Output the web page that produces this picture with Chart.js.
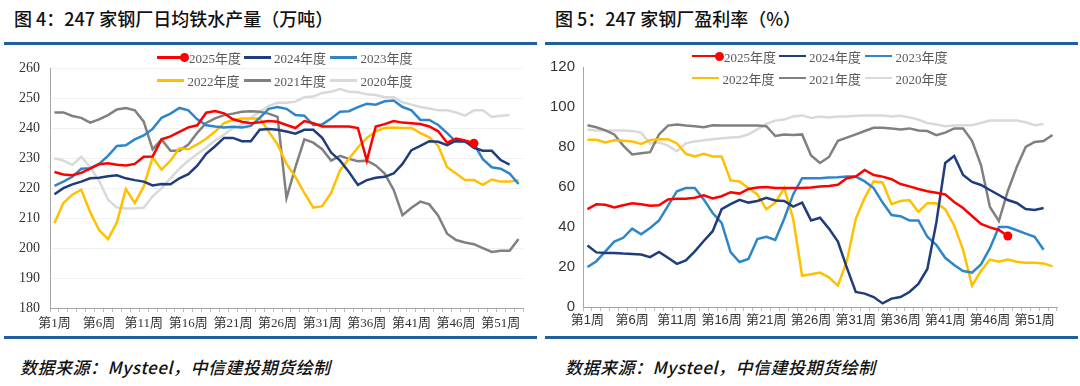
<!DOCTYPE html>
<html>
<head>
<meta charset="utf-8">
<script src="https://cdn.jsdelivr.net/npm/chart.js@4.4.1/dist/chart.umd.min.js"></script>
<style>
  body { margin: 0; background: #fff; }
  #page { position: relative; width: 1080px; height: 386px; overflow: hidden; font-family: "Noto Sans CJK SC", sans-serif; }
  .title { position: absolute; top: 6px; font-size: 18px; font-weight: 500; line-height: 24px; color: #111; white-space: nowrap; }
  .rule { position: absolute; height: 3px; background: #1f5f9f; }
  .box { position: absolute; top: 50px; width: 540px; height: 290px; }
  .legend { position: absolute; display: grid; grid-template-columns: repeat(3, 86.5px); font: 13px "Liberation Serif", "Noto Sans CJK SC", serif; color: #595959; z-index: 2; }
  .item { display: flex; align-items: center; white-space: nowrap; }
  .swatch { position: relative; display: inline-block; width: 27px; height: 2.5px; margin-right: 3.5px; }
  .dot { position: absolute; right: -4.5px; top: -3.25px; width: 9px; height: 9px; border-radius: 50%; }
  .source { position: absolute; top: 355px; font-size: 17px; font-style: italic; font-weight: 500; letter-spacing: 0.5px; line-height: 24px; color: #111; white-space: nowrap; }
</style>
</head>
<body>
<div id="page">
  <div class="title" style="left:14px">图 4：247 家钢厂日均铁水产量（万吨）</div>
  <div class="title" style="left:555px">图 5：247 家钢厂盈利率（%）</div>
  <div class="rule" style="left:4px; width:533px; top:42px"></div>
  <div class="rule" style="left:545px; width:533px; top:42px"></div>

  <div class="box" style="left:0"><canvas id="chartIron"></canvas></div>
  <div class="box" style="left:540px"><canvas id="chartProfit"></canvas></div>

  <div class="legend" id="legendIron" style="left:157px; top:46px; grid-auto-rows:23px"></div>
  <div class="legend" id="legendProfit" style="left:692px; top:45px; grid-auto-rows:22px"></div>

  <div class="rule" style="left:4px; width:533px; top:336px"></div>
  <div class="rule" style="left:545px; width:533px; top:336px"></div>
  <div class="source" style="left:20px">数据来源：Mysteel，中信建投期货绘制</div>
  <div class="source" style="left:565px">数据来源：Mysteel，中信建投期货绘制</div>
</div>

<script>
// label minggu: 第1周 ... 第53周
const weekLabels = []
for (let w = 1; w <= 53; w++) weekLabels.push("第" + w + "周")

const seriesNames = ["2025年度", "2024年度", "2023年度", "2022年度", "2021年度", "2020年度"]
const seriesColors = ["#ff0000", "#1f3d7c", "#2e86c9", "#ffc000", "#808080", "#d9d9d9"]

// 图4 日均铁水产量 (万吨)
const iron2025 = [225.4, 224.6, 224.3, 225.1, 226.5, 228.0, 228.3, 227.8, 227.6, 228.1,
  230.5, 230.6, 236.3, 237.3, 238.8, 240.3, 241.0, 245.2, 245.8, 245.0,
  243.0, 242.2, 241.7, 242.0, 242.4, 242.2, 241.1, 240.1, 242.4, 241.7,
  240.6, 240.6, 240.6, 240.6, 240.1, 229.2, 240.6, 241.4, 242.4, 241.9,
  241.7, 241.4, 240.6, 239.0, 235.2, 236.6, 235.9, 235.0]
const iron2024 = [218.0, 220.0, 221.3, 222.2, 223.3, 223.5, 224.0, 224.3, 223.3, 222.7,
  222.2, 220.9, 221.4, 221.3, 223.3, 224.7, 227.5, 231.5, 234.0, 236.8,
  236.8, 235.7, 235.7, 239.5, 239.8, 239.5, 238.9, 238.2, 239.5, 239.5,
  236.8, 231.9, 229.2, 225.4, 221.1, 222.7, 223.5, 223.8, 224.9, 228.1,
  232.7, 234.1, 235.7, 235.5, 234.4, 235.9, 235.7, 233.5, 232.5, 232.5,
  229.4, 227.9]
const iron2023 = [220.8, 222.2, 223.8, 226.5, 226.7, 228.1, 230.8, 234.1, 234.3, 236.3,
  237.6, 239.8, 243.5, 244.9, 246.8, 246.0, 243.0, 241.0, 240.6, 240.3,
  240.5, 240.3, 240.8, 243.5, 246.5, 247.1, 246.5, 244.4, 244.2, 241.1,
  241.3, 243.3, 245.5, 245.7, 247.1, 248.2, 247.9, 249.0, 249.3, 247.1,
  246.0, 242.8, 242.8, 241.1, 238.4, 235.5, 235.5, 234.8, 229.7, 227.0,
  226.5, 224.9, 221.4]
const iron2022 = [208.4, 215.1, 217.8, 219.5, 212.0, 206.0, 203.0, 208.6, 219.7, 215.1,
  220.5, 230.3, 226.2, 229.2, 233.3, 233.0, 234.6, 236.5, 238.9, 241.7,
  242.8, 243.3, 243.3, 243.3, 238.9, 234.6, 228.1, 223.8, 218.4, 213.5,
  214.0, 218.4, 226.0, 229.8, 233.6, 236.8, 239.0, 240.1, 240.3, 240.1,
  240.1, 238.4, 237.0, 234.1, 227.0, 224.9, 222.7, 222.7, 221.1, 222.9,
  222.2, 222.2, 222.7]
const iron2021 = [245.3, 245.3, 244.1, 243.5, 241.9, 243.0, 244.4, 246.3, 246.8, 246.0,
  242.2, 233.0, 236.3, 232.5, 232.5, 234.6, 238.5, 241.8, 243.3, 244.4,
  244.9, 245.5, 245.7, 245.5, 244.9, 243.8, 216.7, 227.0, 236.3, 235.2,
  233.0, 229.2, 230.8, 229.8, 229.0, 229.2, 227.6, 224.9, 219.5, 211.0,
  213.5, 215.5, 214.6, 210.8, 204.8, 202.7, 201.9, 201.3, 200.0, 198.7,
  199.1, 199.1, 203.0]
const iron2020 = [230.0, 229.2, 227.8, 230.5, 227.0, 222.5, 216.2, 213.5, 213.2, 213.3,
  213.5, 217.3, 220.0, 223.3, 226.5, 229.2, 231.4, 233.6, 235.9, 237.9,
  240.1, 241.1, 243.5, 245.5, 247.5, 248.5, 248.5, 248.9, 250.4, 250.6,
  251.8, 252.2, 253.1, 252.2, 252.0, 251.4, 251.1, 250.4, 250.4, 248.7,
  247.9, 247.1, 246.6, 246.0, 246.0, 245.3, 244.2, 246.0, 246.0, 243.8,
  244.2, 244.4]

// 图5 盈利率 (%)
const profit2025 = [48.9, 51.4, 51.1, 49.8, 50.9, 51.9, 51.4, 50.6, 50.9, 53.8,
  54.1, 54.1, 54.6, 55.8, 54.3, 55.4, 57.4, 56.7, 59.0, 59.8,
  60.0, 59.5, 59.5, 59.5, 59.5, 59.8, 60.3, 60.5, 61.1, 64.4,
  65.2, 68.5, 66.0, 65.2, 63.9, 61.5, 60.3, 59.0, 57.9, 57.1,
  56.3, 52.5, 49.5, 45.5, 41.5, 39.8, 38.5, 35.5]
const profit2024 = [30.7, 27.3, 27.0, 27.0, 26.7, 26.5, 26.2, 24.9, 27.5, 24.6,
  21.6, 23.3, 27.8, 33.0, 37.9, 48.9, 51.4, 53.6, 52.2, 53.0,
  54.6, 53.3, 53.0, 50.2, 52.2, 43.3, 44.6, 39.2, 32.7, 19.7,
  7.5, 6.7, 5.0, 1.8, 4.2, 5.0, 7.5, 11.5, 19.0, 42.0,
  72.0, 75.5, 66.0, 62.5, 61.0, 58.5, 56.0, 53.5, 52.0, 49.0,
  48.5, 49.5]
const profit2023 = [20.0, 22.9, 27.8, 32.7, 34.6, 39.2, 36.4, 39.5, 43.3, 50.6,
  57.9, 59.5, 59.5, 53.8, 47.0, 42.0, 27.5, 22.5, 24.0, 34.0,
  35.1, 33.5, 44.1, 56.3, 64.4, 64.4, 64.4, 64.7, 64.9, 65.2,
  65.2, 62.8, 59.5, 52.2, 46.0, 45.4, 43.3, 43.3, 35.1, 31.1,
  24.6, 21.0, 18.0, 17.2, 21.3, 29.4, 40.0, 40.0, 38.4, 36.7,
  35.1, 28.6]
const profit2022 = [83.6, 83.6, 82.3, 83.4, 83.1, 82.8, 81.5, 83.4, 83.9, 83.9,
  81.8, 76.6, 75.3, 76.6, 75.3, 75.3, 63.3, 62.8, 59.5, 56.3,
  48.9, 52.2, 59.5, 44.1, 15.6, 16.4, 17.2, 14.8, 10.7, 22.9,
  44.1, 54.6, 62.8, 62.3, 51.4, 53.0, 53.5, 47.6, 51.9, 51.9,
  48.9, 40.8, 28.6, 10.7, 18.0, 23.7, 22.6, 23.7, 22.6, 22.1,
  22.1, 21.8, 20.3]
const profit2021 = [90.9, 89.9, 88.3, 86.3, 80.7, 76.3, 76.9, 77.4, 86.3, 90.7,
  91.2, 90.7, 90.4, 89.9, 90.9, 90.7, 90.7, 90.7, 90.7, 90.7,
  90.4, 85.5, 86.3, 86.0, 86.3, 75.8, 72.0, 75.0, 83.1, 84.7,
  86.3, 88.0, 89.6, 89.6, 89.3, 88.8, 89.3, 88.3, 88.0, 85.9,
  87.2, 89.3, 89.3, 83.1, 71.0, 50.0, 43.0, 58.0, 70.0, 80.0,
  82.5, 83.0, 86.0]
const profit2020 = [88.8, 88.3, 88.3, 88.3, 88.3, 88.0, 87.2, 81.8, 82.3, 80.7,
  77.9, 81.8, 82.8, 83.4, 83.9, 84.4, 84.7, 85.0, 86.3, 88.8,
  91.5, 93.2, 93.7, 95.3, 95.8, 94.5, 95.3, 94.8, 95.3, 95.3,
  95.6, 95.8, 95.8, 95.8, 95.3, 95.6, 94.8, 93.7, 92.0, 91.2,
  90.4, 90.7, 90.9, 90.9, 92.0, 93.2, 93.2, 93.2, 93.2, 92.4,
  90.9, 91.5]

// bikin dataset untuk tiap tahun, titik merah cuma di data terakhir 2025
function buildDatasets(seriesList) {
  return seriesList.map((values, i) => ({
    label: seriesNames[i],
    data: values,
    borderColor: seriesColors[i],
    backgroundColor: seriesColors[i],
    borderWidth: 2.5,
    tension: 0,
    pointRadius: i === 0 ? values.map((v, j) => (j === values.length - 1 ? 4.5 : 0)) : 0,
    pointBorderWidth: 0,
    pointHoverRadius: 0,
  }))
}

function renderChart(canvasId, datasets, cfg) {
  return new Chart(document.getElementById(canvasId), {
    type: "line",
    data: { labels: weekLabels, datasets: datasets },
    options: {
      responsive: true,
      maintainAspectRatio: false,
      animation: false,
      layout: { padding: { top: cfg.padTop, right: cfg.padRight, left: 0, bottom: 0 } },
      plugins: { legend: { display: false }, tooltip: { enabled: false } },
      scales: {
        x: {
          offset: true,
          grid: { drawOnChartArea: false, drawTicks: true, tickLength: 4, color: "#bfbfbf", offset: true },
          border: { color: "#a6a6a6" },
          ticks: {
            autoSkip: false,
            maxRotation: 0,
            padding: cfg.xPad,
            color: "#333",
            font: cfg.xFont,
            callback: function (v, i) {
              return i % 5 === 0 ? this.getLabelForValue(v) : ""
            },
          },
          afterFit: (s) => { s.height = cfg.xHeight },
        },
        y: {
          min: cfg.min,
          max: cfg.max,
          ticks: { stepSize: cfg.step, padding: cfg.yPad, color: "#333", font: cfg.yFont },
          grid: { display: cfg.gridColor !== null, drawTicks: false, color: cfg.gridColor || "#fff" },
          border: { color: "#a6a6a6" },
          afterFit: (s) => { s.width = cfg.yWidth },
        },
      },
    },
  })
}

// legend manual, biar bisa di dalam area chart
function renderLegend(legendId) {
  const box = document.getElementById(legendId)
  seriesNames.forEach((name, i) => {
    const item = document.createElement("div")
    item.className = "item"
    const sw = document.createElement("span")
    sw.className = "swatch"
    sw.style.background = seriesColors[i]
    if (i === 0) {
      const dot = document.createElement("span")
      dot.className = "dot"
      dot.style.background = seriesColors[i]
      sw.append(dot)
      sw.style.marginRight = "5px"
    }
    item.append(sw, document.createTextNode(name))
    box.append(item)
  })
}

renderChart("chartIron", buildDatasets([iron2025, iron2024, iron2023, iron2022, iron2021, iron2020]), {
  min: 180, max: 260, step: 10,
  padTop: 12, padRight: 17, yWidth: 50, xHeight: 32, xPad: 4, yPad: 10,
  gridColor: "#f0f0f0",
  yFont: { family: "'Liberation Serif', serif", size: 14 },
  xFont: { family: "'Liberation Serif', 'Noto Sans CJK SC', serif", size: 13 },
})

renderChart("chartProfit", buildDatasets([profit2025, profit2024, profit2023, profit2022, profit2021, profit2020]), {
  min: 0, max: 120, step: 20,
  padTop: 11, padRight: 23, yWidth: 43, xHeight: 33, xPad: 2, yPad: 8,
  gridColor: null,
  yFont: { family: "'Liberation Sans', sans-serif", size: 15 },
  xFont: { family: "'Liberation Sans', 'Noto Sans CJK SC', sans-serif", size: 13 },
})

renderLegend("legendIron")
renderLegend("legendProfit")
</script>
</body>
</html>
